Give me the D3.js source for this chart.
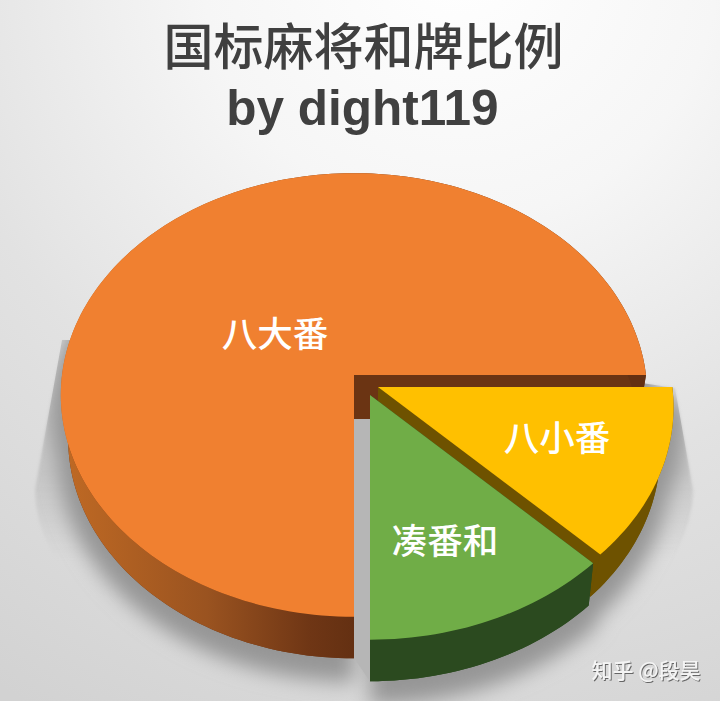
<!DOCTYPE html>
<html><head><meta charset="utf-8">
<script src="https://cdn.jsdelivr.net/npm/d3@7/dist/d3.min.js"></script>
<style>html,body{margin:0;padding:0;background:#fff}svg{display:block}</style>
</head><body><div id="c"></div>
<script>
const categories = ["八大番","八小番","凑番和"];
const shares = [75,12.5,12.5];
const faceColors = ["#f08030","#ffc000","#70ad47"];
const wallColors = ["#6b3413","#6e5200","#2b4a1f"];
const titleLines = ["国标麻将和牌比例","by dight119"];
const watermark = "知乎 @段昊";

const W=720,H=701, cx=354, cy=375, depth=44, k=-0.09;
const explode=[{dx:0,dy:0,s:1,low:0.975},{dx:24,dy:12,s:1.008,low:0.955},{dx:16,dy:20,s:1.012,low:0.98}];
const labelOffset=[[-79,-41],[203,63],[91,166]];
const sx=d3.scaleLinear().domain([-1,1]).range([-292,292]);
const sy=d3.scaleLinear().domain([-1,1]).range([-220,220]);

const svg=d3.select("#c").append("svg").attr("width",W).attr("height",H).attr("viewBox",[0,0,W,H]);
const defs=svg.append("defs");
const bg=defs.append("radialGradient").attr("id","bg").attr("gradientUnits","userSpaceOnUse")
  .attr("cx",460).attr("cy",-40).attr("r",860);
[[0,"#ffffff"],[0.3,"#f6f6f6"],[0.62,"#e2e2e2"],[1,"#d2d2d2"]].forEach(d=>bg.append("stop").attr("offset",d[0]).attr("stop-color",d[1]));
const og=defs.append("linearGradient").attr("id","ow").attr("gradientUnits","userSpaceOnUse")
  .attr("x1",60).attr("x2",354).attr("y1",0).attr("y2",0);
[[0,"#c06a24"],[0.5,"#9a5320"],[0.85,"#6f3615"],[1,"#643012"]].forEach(d=>og.append("stop").attr("offset",d[0]).attr("stop-color",d[1]));
const wg=defs.append("linearGradient").attr("id","wedge").attr("gradientUnits","userSpaceOnUse")
  .attr("x1",0).attr("x2",0).attr("y1",340).attr("y2",560);
[[0,"#b9b9b9",0],[0.35,"#b9b9b9",0.65],[0.6,"#b9b9b9",0.65],[1,"#b9b9b9",0]].forEach(d=>wg.append("stop").attr("offset",d[0]).attr("stop-color",d[1]).attr("stop-opacity",d[2]));
defs.append("filter").attr("id","blur").attr("x","-20%").attr("y","-20%").attr("width","140%").attr("height","140%")
  .append("feGaussianBlur").attr("stdDeviation",10);
defs.append("filter").attr("id","soft").attr("x","-10%").attr("y","-10%").attr("width","120%").attr("height","120%")
  .append("feGaussianBlur").attr("stdDeviation",1.5);
const ts=defs.append("filter").attr("id","wm").attr("x","-10%").attr("y","-20%").attr("width","120%").attr("height","150%");
ts.append("feDropShadow").attr("dx",1).attr("dy",1).attr("stdDeviation",0.7).attr("flood-color","#666");

svg.append("rect").attr("width",W).attr("height",H).attr("fill","url(#bg)");

const pie=d3.pie().sort(null).startAngle(Math.PI).endAngle(3*Math.PI);
const arcs=pie(shares);
function proj(r,a,ex,low){
  const u=r*Math.sin(a), v=-r*Math.cos(a), w=1+k*v;
  let x=sx(u)/w*ex.s, y=sy(v)/w*ex.s;
  if(low){x*=ex.low; y=y*0.99+depth;}
  return [cx+ex.dx+x, cy+ex.dy+y];
}
const line=d3.line();
function samples(a){const n=Math.max(8,Math.round((a.endAngle-a.startAngle)*40));
  return d3.range(n+1).map(i=>a.startAngle+(a.endAngle-a.startAngle)*i/n);}
function sector(a,ex,low){return line([proj(0,0,ex,low),...samples(a).map(t=>proj(1,t,ex,low))])+"Z";}
function strip(a,ex){const ts=samples(a);
  return line([...ts.map(t=>proj(1,t,ex,false)),...ts.slice().reverse().map(t=>proj(1,t,ex,true))])+"Z";}
function quad(t,ex){return line([proj(0,0,ex,false),proj(1,t,ex,false),proj(1,t,ex,true),proj(0,0,ex,true)])+"Z";}

// the shadow is cut by straight slanted edges above its widest line
defs.append("clipPath").attr("id","below").append("path")
  .attr("d",line([[675,388],[693,490],[W,490],[W,H],[0,H],[0,490],[35,490],[62,340],[354,340]])+"Z");

// faint wedge-shaped cast shadow reaching out from behind the pie
const rim=d3.range(0,41).map(i=>{const t=Math.PI/2+Math.PI*i/40;
  return [364+329*Math.sin(t),490-195*Math.cos(t)];});
svg.append("path").attr("d",line([[675,388],...rim,[62,340],[354,340]])+"Z")
  .attr("fill","url(#wedge)").attr("filter","url(#soft)");

// dense drop shadow hugging the base of the pie
const shadow=svg.append("g").attr("clip-path","url(#below)").append("g").attr("filter","url(#blur)").attr("transform","translate(0,15)");
arcs.forEach((a,i)=>{
  const ex={dx:explode[i].dx,dy:explode[i].dy,s:explode[i].s*1.035,low:explode[i].low};
  shadow.append("path").attr("d",sector(a,ex,true)).attr("fill","#969696");
  shadow.append("path").attr("d",strip(a,ex)).attr("fill","#969696");
  shadow.append("path").attr("d",sector(a,ex,false)).attr("fill","#969696");
});
// grey gap between the cut faces
svg.append("path").attr("d",line([proj(0,0,explode[0],false),proj(0,0,explode[2],false),proj(1,Math.PI,explode[2],true),proj(1,Math.PI,explode[0],true)])+"Z").attr("fill","#b6b6b6");

const g=svg.append("g");
[0,1,2].forEach(i=>{
  const a=arcs[i], ex=explode[i];
  g.append("path").attr("d",sector(a,ex,true)).attr("fill",wallColors[i]);
  g.append("path").attr("d",quad(a.startAngle,ex)).attr("fill",wallColors[i]);
  g.append("path").attr("d",quad(a.endAngle,ex)).attr("fill",wallColors[i]);
  g.append("path").attr("d",strip(a,ex)).attr("fill",i===0?"url(#ow)":wallColors[i]);
  g.append("path").attr("d",sector(a,ex,false)).attr("fill",faceColors[i]);
});

const cjk='"Noto Sans CJK SC","Noto Sans",sans-serif';
svg.append("text").attr("x",363.5).attr("y",65).attr("text-anchor","middle")
  .attr("font-family",cjk).attr("font-size",50).attr("font-weight",500).attr("fill","#404040").text(titleLines[0]);
svg.append("text").attr("x",362.5).attr("y",125).attr("text-anchor","middle")
  .attr("font-family",'"Liberation Sans",Arial,sans-serif').attr("font-size",49.5).attr("font-weight",700).attr("fill","#404040").text(titleLines[1]);

categories.forEach((c,i)=>{
  svg.append("text").attr("x",cx+labelOffset[i][0]).attr("y",cy+labelOffset[i][1]).attr("dy","0.36em")
    .attr("text-anchor","middle").attr("font-family",cjk).attr("font-size",35.5).attr("font-weight",500)
    .attr("fill","#ffffff").text(c);
});
svg.append("text").attr("x",646).attr("y",678).attr("text-anchor","middle").attr("font-family",cjk)
  .attr("font-size",21).attr("font-weight",500).attr("fill","#f4f4f4").attr("filter","url(#wm)").text(watermark);
</script></body></html>
